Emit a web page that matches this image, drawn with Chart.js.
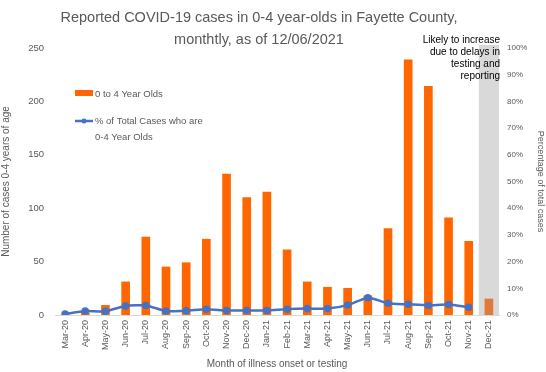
<!DOCTYPE html>
<html>
<head>
<meta charset="utf-8">
<script src="https://cdn.jsdelivr.net/npm/chart.js@4"></script>
<style>
  html, body { margin: 0; padding: 0; background: #fff; }
  #wrap { width: 546px; height: 372px; position: relative; }
</style>
</head>
<body>
<div id="wrap"><canvas id="chart" width="546" height="372"></canvas></div>
<script>
const months = ["Mar-20", "Apr-20", "May-20", "Jun-20", "Jul-20", "Aug-20", "Sep-20", "Oct-20",
  "Nov-20", "Dec-20", "Jan-21", "Feb-21", "Mar-21", "Apr-21", "May-21", "Jun-21", "Jul-21",
  "Aug-21", "Sep-21", "Oct-21", "Nov-21", "Dec-21"];
const cases = [0, 2, 9, 31, 73, 45, 49, 71, 132, 110, 115, 61, 31, 26, 25, 18, 81, 239, 214, 91, 69, 15];
const pctOfTotal = [0.4, 1.5, 1.4, 3.4, 3.6, 1.5, 1.6, 2.2, 1.7, 1.7, 1.7, 2.2, 2.4, 2.4, 3.7, 6.5, 4.4, 4.0, 3.6, 3.9, 2.9, null];
const leftTicks = [0, 50, 100, 150, 200, 250];
const rightTicks = [0, 10, 20, 30, 40, 50, 60, 70, 80, 90, 100];
const noteLines = ["Likely to increase", "due to delays in", "testing and", "reporting"];

const FONT = "'Liberation Sans', Arial, sans-serif";
const GREY = "#595959";

const barColors = cases.map((v, i) => i === cases.length - 1 ? "#E07A3A" : "#FF6600");

// grey band behind the last (incomplete) month
const bandPlugin = {
  id: "band",
  beforeDatasetsDraw(chart) {
    const x = chart.scales.x;
    const ctx = chart.ctx;
    const half = (x.getPixelForValue(1) - x.getPixelForValue(0)) / 2;
    const x0 = x.getPixelForValue(months.length - 1) - half;
    ctx.save();
    ctx.fillStyle = "#D9D9D9";
    ctx.fillRect(x0, 45, chart.chartArea.right - x0, chart.chartArea.bottom - 45);
    ctx.restore();
  }
};

// title, legend and note
const textPlugin = {
  id: "texts",
  afterDraw(chart) {
    const ctx = chart.ctx;
    ctx.save();
    ctx.fillStyle = GREY;
    ctx.font = "14.5px " + FONT;
    ctx.textAlign = "center";
    ctx.textBaseline = "middle";
    ctx.fillText("Reported COVID-19 cases in 0-4 year-olds in Fayette County,", 259, 18);
    ctx.fillText("monthtly, as of 12/06/2021", 259, 40);

    ctx.fillStyle = "#000";
    ctx.font = "10px " + FONT;
    ctx.textAlign = "right";
    noteLines.forEach((t, i) => ctx.fillText(t, 500, 40 + i * 12));

    // legend
    ctx.fillStyle = "#FF6600";
    ctx.fillRect(75, 90, 18, 6);
    ctx.strokeStyle = "#4472C4";
    ctx.lineWidth = 2.5;
    ctx.beginPath();
    ctx.moveTo(75, 121);
    ctx.lineTo(93, 121);
    ctx.stroke();
    ctx.fillStyle = "#4472C4";
    ctx.beginPath();
    ctx.arc(84, 121, 2.5, 0, Math.PI * 2);
    ctx.fill();
    ctx.fillStyle = GREY;
    ctx.font = "9.5px " + FONT;
    ctx.textAlign = "left";
    ctx.fillText("0 to 4 Year Olds", 95, 94);
    ctx.fillText("% of Total Cases who are", 95, 121);
    ctx.fillText("0-4 Year Olds", 95, 137);
    ctx.restore();
  }
};

new Chart(document.getElementById("chart"), {
  data: {
    labels: months,
    datasets: [
      {
        type: "line",
        label: "% of Total Cases who are 0-4 Year Olds",
        data: pctOfTotal,
        yAxisID: "y2",
        borderColor: "#4472C4",
        backgroundColor: "#4472C4",
        borderWidth: 2.5,
        pointRadius: 2.5,
        pointHoverRadius: 2.5,
        tension: 0.2,
        order: 0
      },
      {
        type: "bar",
        label: "0 to 4 Year Olds",
        data: cases,
        yAxisID: "y",
        backgroundColor: barColors,
        barThickness: 8,
        order: 1
      }
    ]
  },
  options: {
    responsive: false,
    animation: false,
    layout: { padding: { top: 48, left: 0, right: 0, bottom: 0 } },
    plugins: {
      legend: { display: false },
      title: { display: false },
      tooltip: { enabled: false }
    },
    scales: {
      x: {
        offset: true,
        grid: { display: false, drawTicks: false },
        border: { display: true, color: "#D9D9D9", width: 1 },
        ticks: {
          color: GREY,
          font: { family: FONT, size: 9 },
          maxRotation: 90,
          minRotation: 90,
          autoSkip: false,
          padding: 5
        },
        title: {
          display: true,
          text: "Month of illness onset or testing",
          color: GREY,
          font: { family: FONT, size: 10 },
          padding: { top: 0, bottom: 2 }
        },
        afterFit(s) { s.height = 57; }
      },
      y: {
        position: "left",
        min: 0,
        max: 250,
        afterBuildTicks(s) { s.ticks = leftTicks.map(v => ({ value: v })); },
        grid: { display: false, drawTicks: false },
        border: { display: false },
        ticks: { color: GREY, font: { family: FONT, size: 9.5 }, padding: 11 },
        title: {
          display: true,
          text: "Number of cases 0-4 years of age",
          color: GREY,
          font: { family: FONT, size: 10 },
          padding: { top: 0, bottom: 2 }
        },
        afterFit(s) { s.width = 55; }
      },
      y2: {
        position: "right",
        min: 0,
        max: 100,
        afterBuildTicks(s) { s.ticks = rightTicks.map(v => ({ value: v })); },
        grid: { display: false, drawTicks: false },
        border: { display: false },
        ticks: {
          color: GREY,
          font: { family: FONT, size: 8 },
          padding: 8,
          callback: v => v + "%"
        },
        title: {
          display: true,
          text: "Percentage of total cases",
          color: GREY,
          font: { family: FONT, size: 9 },
          padding: { top: 0, bottom: 3 }
        },
        afterFit(s) { s.width = 47; }
      }
    }
  },
  plugins: [bandPlugin, textPlugin]
});
</script>
</body>
</html>
